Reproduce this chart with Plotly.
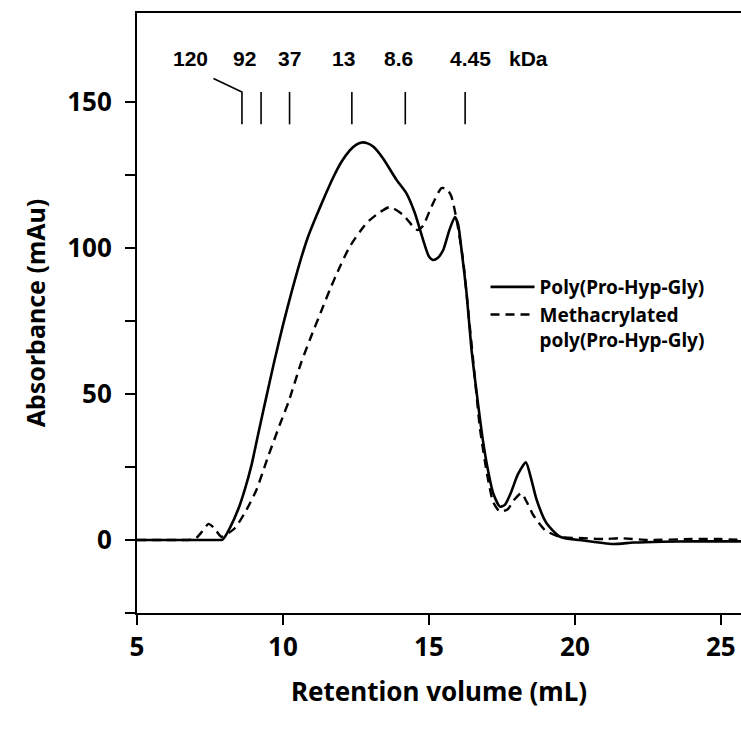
import plotly.graph_objects as go

# ---- data ----
vol_poly = [5.0, 6.0, 7.0, 7.5, 7.94, 8.2, 8.46, 8.7, 8.92, 9.2, 9.41, 9.7, 10.0, 10.3,
            10.58, 10.85, 11.15, 11.45, 11.72, 12.0, 12.29, 12.5, 12.7, 12.9, 13.1, 13.43, 13.89,
            14.23, 14.52, 14.8, 15.0, 15.14, 15.3, 15.49, 15.7, 15.89, 16.0, 16.12, 16.29,
            16.45, 16.64, 16.85, 17.02, 17.2, 17.43, 17.6, 17.8, 18.05, 18.32, 18.5, 18.69,
            19.03, 19.49, 20.29, 21.31, 22.0, 23.0, 24.0, 25.0, 25.7]
abs_poly = [0, 0, 0, 0, 0.2, 4.5, 10.3, 17.5, 25.5, 38.5, 48, 61, 73.5, 85,
            95, 103.5, 111, 118, 124, 129.3, 133.3, 135.2, 136, 135.7, 134.5, 130.5, 123.2,
            118.6, 111.8, 102.7, 97, 95.8, 96.5, 99.2, 106, 110.5, 108, 99, 84.4,
            66, 50, 34, 24, 16, 11.4, 12, 16, 22.5, 26.6, 21, 13.7,
            5.7, 1.1, -0.2, -1.4, -0.9, -0.6, -0.5, -0.5, -0.5]

vol_meth = [5.0, 6.0, 6.98, 7.2, 7.45, 7.65, 7.89, 8.35, 8.75, 9.09, 9.49, 9.89, 10.2,
            10.6, 10.92, 11.3, 11.6, 11.95, 12.29, 12.86, 13.3, 13.66, 14.12, 14.46,
            14.62, 14.8, 15.09, 15.43, 15.62, 15.77, 15.95, 16.17, 16.35, 16.55, 16.75,
            17.0, 17.2, 17.43, 17.7, 17.9, 18.17, 18.35, 18.57, 18.97, 19.5, 20.29, 21.0,
            21.54, 22.5, 24.0, 25.0, 25.7]
abs_meth = [0, 0, 0.3, 2.5, 5.5, 4, 1.1, 4, 10.3, 17.1, 28.5, 39.4, 47.5,
            60, 68.5, 78, 85.5, 93.5, 100.4, 108.4, 112, 113.9, 111.2, 107.2,
            106, 107.5, 114.1, 120.4, 120, 117.5, 109.5, 95.8, 78, 58, 38,
            22, 13, 9.7, 10.5, 13.5, 16, 13, 8.6, 3.4, 1, 0.6, 0.3,
            0.6, 0, 0.3, 0.3, 0]

# molecular-weight standards (kDa) and their elution volumes (mL)
std_labels = ["120", "92", "37", "13", "8.6", "4.45"]
std_volumes = [8.595, 9.25, 10.226, 12.36, 14.19, 16.24]
std_label_x = [6.82, 8.69, 10.22, 12.06, 13.96, 16.43]
unit_label = "kDa"
unit_label_x = 18.4

x_ticks = [5, 10, 15, 20, 25]
y_ticks = [-25, 0, 25, 50, 75, 100, 125, 150]
y_ticktext = ["", "0", "", "50", "", "100", "", "150"]

FONT = "Noto Sans"
ARIAL = "Liberation Sans"

fig = go.Figure()

fig.add_trace(go.Scatter(
    x=vol_poly, y=abs_poly, mode="lines", name="Poly(Pro-Hyp-Gly)",
    line=dict(color="black", width=2.6, shape="spline", smoothing=0.6)))
fig.add_trace(go.Scatter(
    x=vol_meth, y=abs_meth, mode="lines", name="Methacrylated<br>poly(Pro-Hyp-Gly)",
    line=dict(color="black", width=2.4, dash="9px,6px", shape="spline", smoothing=0.6)))

# standard markers
mark_top, mark_bot = 153.3, 142.2
for i, v in enumerate(std_volumes):
    xs, ys = [v, v], [mark_top, mark_bot]
    if i == 0:
        xs = [7.62, v, v]
        ys = [157.9, mark_top, mark_bot]
    fig.add_trace(go.Scatter(x=xs, y=ys, mode="lines", showlegend=False,
                             hoverinfo="skip", line=dict(color="black", width=1.6)))

for lab, lx in zip(std_labels + [unit_label], std_label_x + [unit_label_x]):
    fig.add_annotation(x=lx, y=164.6, text=lab, showarrow=False,
                       font=dict(family=ARIAL, size=21, color="black", weight="bold"),
                       xanchor="center", yanchor="middle")

fig.update_layout(
    width=741, height=731,
    margin=dict(l=137, r=0, t=13, b=118),
    paper_bgcolor="white", plot_bgcolor="white",
    showlegend=True,
    legend=dict(x=0.577, y=0.575, xanchor="left", yanchor="top",
                font=dict(family=FONT, size=19, color="black", weight="bold"),
                bgcolor="rgba(0,0,0,0)", valign="top", tracegroupgap=2,
                itemwidth=44),
    xaxis=dict(range=[5, 25.69], tickvals=x_ticks, ticks="outside", ticklen=10,
               tickwidth=2, tickcolor="black", showline=True, linewidth=2,
               linecolor="black", mirror=True, showgrid=False, zeroline=False,
               tickfont=dict(family=FONT, size=26, color="black", weight="bold"),
               ticklabelstandoff=0,
               title=dict(text="Retention volume (mL)", standoff=20,
                          font=dict(family=FONT, size=26, color="black", weight="bold"))),
    yaxis=dict(range=[-25, 180.3], tickvals=y_ticks, ticktext=y_ticktext,
               ticks="outside", ticklen=10, tickwidth=2, tickcolor="black",
               showline=True, linewidth=2, linecolor="black", showgrid=False,
               zeroline=False,
               tickfont=dict(family=FONT, size=26, color="black", weight="bold"),
               ticklabelstandoff=8,
               title=dict(text="Absorbance (mAu)", standoff=14,
                          font=dict(family=FONT, size=25, color="black", weight="bold"))),
)

fig.write_html("out.html")
